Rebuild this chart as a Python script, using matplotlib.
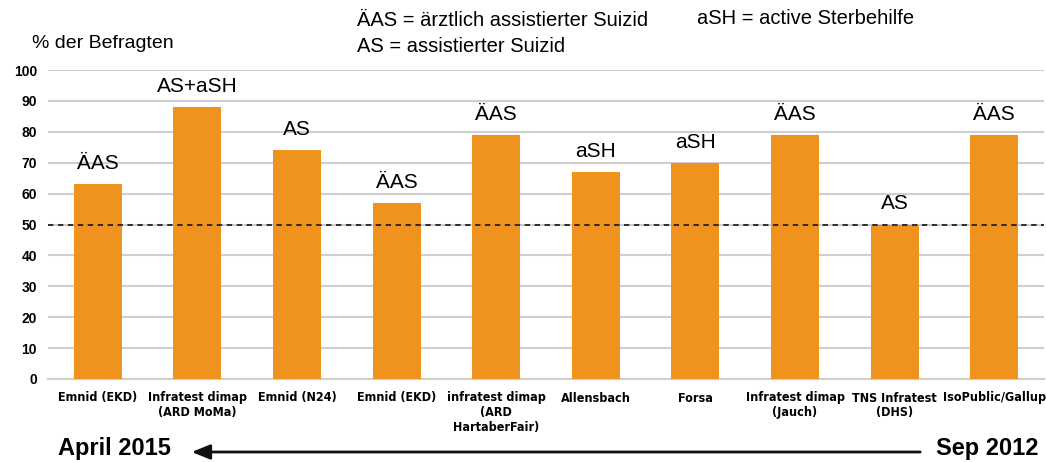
import matplotlib
matplotlib.use("Agg")
import matplotlib.pyplot as plt
from matplotlib.patches import FancyArrowPatch

# survey institutes (newest left, oldest right)
institutes = ["Emnid (EKD)", "Infratest dimap\n(ARD MoMa)", "Emnid (N24)", "Emnid (EKD)",
              "infratest dimap\n(ARD\nHartaberFair)", "Allensbach", "Forsa",
              "Infratest dimap\n(Jauch)", "TNS Infratest\n(DHS)", "IsoPublic/Gallup"]
approval = [63, 88, 74, 57, 79, 67, 70, 79, 50, 79]
question = ["ÄAS", "AS+aSH", "AS", "ÄAS", "ÄAS", "aSH", "aSH", "ÄAS", "AS", "ÄAS"]
yticks = list(range(0, 101, 10))

orange = "#F0921E"
main_font = ["Liberation Sans", "DejaVu Sans"]

fig = plt.figure(figsize=(10.46, 4.62), dpi=100)
ax = fig.add_axes([48 / 1046, 1 - 379 / 462, 996 / 1046, 309 / 462])

x = list(range(len(institutes)))
ax.bar(x, approval, width=0.48, color=orange, zorder=3)

ax.set_ylim(0, 100)
ax.set_xlim(-0.5, len(institutes) - 0.5)
ax.set_yticks(yticks)
ax.set_yticklabels([str(v) for v in yticks], fontsize=10, fontweight="bold", family=main_font)
ax.set_xticks(x)
ax.set_xticklabels(institutes, fontsize=9, fontweight="bold", family="DejaVu Sans",
                   fontstretch="condensed", linespacing=1.15)
ax.tick_params(axis="y", length=0, pad=8)
ax.tick_params(axis="x", length=0, pad=9)
ax.yaxis.grid(True, color="#cfcfcf", linewidth=1.5, zorder=0)
for s in ["top", "right", "left"]:
    ax.spines[s].set_visible(False)
ax.spines["bottom"].set_color("#cfcfcf")
ax.spines["bottom"].set_linewidth(1.5)

ax.axhline(50, color="#222222", linestyle=(0, (3, 2.5)), linewidth=1.3, zorder=4)

for xi, v, lab in zip(x, approval, question):
    ax.annotate(lab, (xi, v), xytext=(0, 8), textcoords="offset points",
                ha="center", va="bottom", fontsize=15, family=main_font)

fig.text(32 / 1046, 1 - 43 / 462, "% der Befragten", fontsize=14, family=main_font, va="center")
fig.text(357 / 1046, 1 - 20 / 462, "ÄAS = ärztlich assistierter Suizid", fontsize=14.5, family=main_font, va="center")
fig.text(357 / 1046, 1 - 47 / 462, "AS = assistierter Suizid", fontsize=14.5, family=main_font, va="center")
fig.text(697 / 1046, 1 - 18 / 462, "aSH = active Sterbehilfe", fontsize=14.5, family=main_font, va="center")

fig.text(58 / 1046, 1 - 449 / 462, "April 2015", fontsize=17, fontweight="bold", family=main_font, va="center")
fig.text(1038 / 1046, 1 - 449 / 462, "Sep 2012", fontsize=17, fontweight="bold", family=main_font,
         va="center", ha="right")
fig.add_artist(FancyArrowPatch(
    (923 / 1046, 1 - 452 / 462), (189 / 1046, 1 - 452 / 462), transform=fig.transFigure,
    arrowstyle="-|>,head_length=11,head_width=4.5", mutation_scale=1, color="#111111", linewidth=2))

fig.savefig("out.png", dpi=100)
